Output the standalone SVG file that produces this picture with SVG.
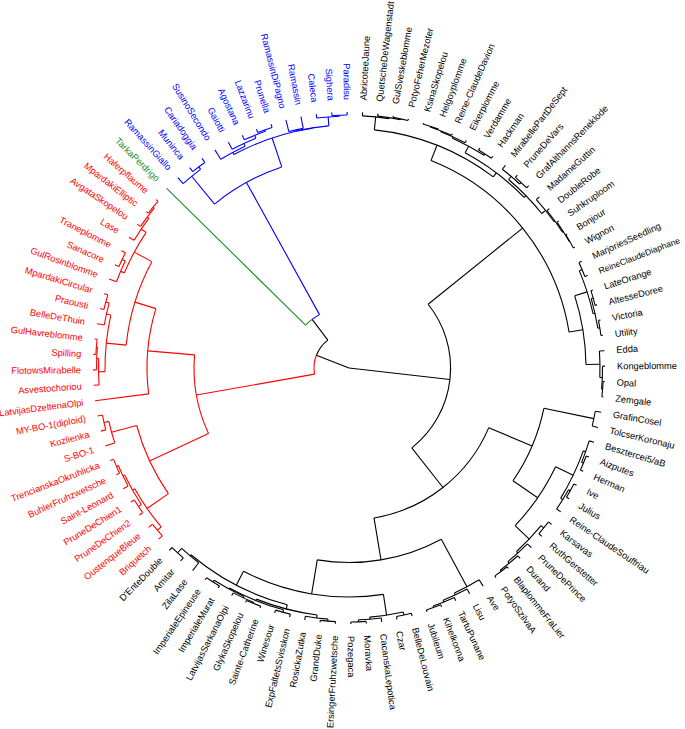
<svg xmlns="http://www.w3.org/2000/svg" width="685" height="729" viewBox="0 0 685 729">
<style>
.br path,.br circle{fill:none;stroke-width:1.1}
.k{stroke:#000}.r{stroke:#f00}.b{stroke:#00f}.g{stroke:#228b22}
text{font-family:"Liberation Sans",Arial,sans-serif;font-size:9.3px}
.tk{fill:#000}.tr{fill:#f00}.tb{fill:#00f}.tg{fill:#228b22}
.L{text-anchor:end}
</style>
<rect width="685" height="729" fill="#fff"/>
<g transform="translate(349 368)">
<g id="connectors" class="br">
<g class="k">
<path d="M0 0H35" transform="rotate(201.39)"/>
<path d="M0 0H101.6" transform="rotate(6.48)"/>
<circle r="101.6" pathLength="360" stroke-dasharray="90.675 400" transform="rotate(-38.86)"/>
<path d="M101.6 0H223" transform="rotate(-38.86)"/>
<path d="M101.6 0H152" transform="rotate(51.815)"/>
<circle r="223" pathLength="360" stroke-dasharray="59.145 400" transform="rotate(-68.435)"/>
<path d="M223 0H239.5" transform="rotate(-68.435)"/>
<path d="M223 0H237" transform="rotate(-9.29)"/>
<circle r="239.5" pathLength="360" stroke-dasharray="30.99 400" transform="rotate(-83.93)"/>
<path d="M239.5 0H252.5" transform="rotate(-83.93)"/>
<path d="M239.5 0H244.5" transform="rotate(-52.94)"/>
<circle r="252.5" pathLength="360" stroke-dasharray="6.055 400" transform="rotate(-86.96)"/>
<path d="M252.5 0H256" transform="rotate(-86.96)"/>
<path d="M252.5 0H253.5" transform="rotate(-80.905)"/>
<circle r="253.5" pathLength="360" stroke-dasharray="5.19 400" transform="rotate(-83.5)"/>
<path d="M253.5 0H256" transform="rotate(-83.5)"/>
<path d="M253.5 0H254.5" transform="rotate(-78.31)"/>
<circle r="254.5" pathLength="360" stroke-dasharray="3.46 400" transform="rotate(-80.04)"/>
<path d="M254.5 0H256" transform="rotate(-80.04)"/>
<path d="M254.5 0H256" transform="rotate(-76.58)"/>
<circle r="244.5" pathLength="360" stroke-dasharray="17.42 400" transform="rotate(-61.65)"/>
<path d="M244.5 0H252" transform="rotate(-61.65)"/>
<path d="M244.5 0H247" transform="rotate(-44.23)"/>
<circle r="252" pathLength="360" stroke-dasharray="8.22 400" transform="rotate(-65.76)"/>
<path d="M252 0H253.5" transform="rotate(-65.76)"/>
<path d="M252 0H253.5" transform="rotate(-57.54)"/>
<circle r="253.5" pathLength="360" stroke-dasharray="6.06 400" transform="rotate(-68.79)"/>
<path d="M253.5 0H254.3" transform="rotate(-68.79)"/>
<path d="M253.5 0H256" transform="rotate(-62.73)"/>
<circle r="254.3" pathLength="360" stroke-dasharray="5.195 400" transform="rotate(-71.385)"/>
<path d="M254.3 0H255" transform="rotate(-71.385)"/>
<path d="M254.3 0H256" transform="rotate(-66.19)"/>
<circle r="255" pathLength="360" stroke-dasharray="3.47 400" transform="rotate(-73.12)"/>
<path d="M255 0H256" transform="rotate(-73.12)"/>
<path d="M255 0H256" transform="rotate(-69.65)"/>
<circle r="253.5" pathLength="360" stroke-dasharray="3.46 400" transform="rotate(-59.27)"/>
<path d="M253.5 0H256" transform="rotate(-59.27)"/>
<path d="M253.5 0H256" transform="rotate(-55.81)"/>
<circle r="247" pathLength="360" stroke-dasharray="11.035 400" transform="rotate(-49.75)"/>
<path d="M247 0H251" transform="rotate(-49.75)"/>
<path d="M247 0H252" transform="rotate(-38.715)"/>
<circle r="251" pathLength="360" stroke-dasharray="5.2 400" transform="rotate(-52.35)"/>
<path d="M251 0H256" transform="rotate(-52.35)"/>
<path d="M251 0H253" transform="rotate(-47.15)"/>
<circle r="253" pathLength="360" stroke-dasharray="3.46 400" transform="rotate(-48.88)"/>
<path d="M253 0H256" transform="rotate(-48.88)"/>
<path d="M253 0H256" transform="rotate(-45.42)"/>
<circle r="252" pathLength="360" stroke-dasharray="6.49 400" transform="rotate(-41.96)"/>
<path d="M252 0H256" transform="rotate(-41.96)"/>
<path d="M252 0H253" transform="rotate(-35.47)"/>
<circle r="253" pathLength="360" stroke-dasharray="6.055 400" transform="rotate(-38.5)"/>
<path d="M253 0H256" transform="rotate(-38.5)"/>
<path d="M253 0H254" transform="rotate(-32.445)"/>
<circle r="254" pathLength="360" stroke-dasharray="5.19 400" transform="rotate(-35.04)"/>
<path d="M254 0H256" transform="rotate(-35.04)"/>
<path d="M254 0H254.5" transform="rotate(-29.85)"/>
<circle r="254.5" pathLength="360" stroke-dasharray="3.46 400" transform="rotate(-31.58)"/>
<path d="M254.5 0H256" transform="rotate(-31.58)"/>
<path d="M254.5 0H256" transform="rotate(-28.12)"/>
<circle r="237" pathLength="360" stroke-dasharray="16.8775 400" transform="rotate(-17.73)"/>
<path d="M237 0H250" transform="rotate(-17.73)"/>
<path d="M237 0H251" transform="rotate(-0.8525)"/>
<circle r="250" pathLength="360" stroke-dasharray="10.38 400" transform="rotate(-22.92)"/>
<path d="M250 0H253" transform="rotate(-22.92)"/>
<path d="M250 0H252" transform="rotate(-12.54)"/>
<circle r="253" pathLength="360" stroke-dasharray="3.46 400" transform="rotate(-24.65)"/>
<path d="M253 0H256" transform="rotate(-24.65)"/>
<path d="M253 0H256" transform="rotate(-21.19)"/>
<circle r="252" pathLength="360" stroke-dasharray="6.92 400" transform="rotate(-16)"/>
<path d="M252 0H254" transform="rotate(-16)"/>
<path d="M252 0H254" transform="rotate(-9.08)"/>
<circle r="254" pathLength="360" stroke-dasharray="3.46 400" transform="rotate(-17.73)"/>
<path d="M254 0H256" transform="rotate(-17.73)"/>
<path d="M254 0H256" transform="rotate(-14.27)"/>
<circle r="254" pathLength="360" stroke-dasharray="3.46 400" transform="rotate(-10.81)"/>
<path d="M254 0H256" transform="rotate(-10.81)"/>
<path d="M254 0H256" transform="rotate(-7.35)"/>
<circle r="251" pathLength="360" stroke-dasharray="6.055 400" transform="rotate(-3.88)"/>
<path d="M251 0H256" transform="rotate(-3.88)"/>
<path d="M251 0H253.5" transform="rotate(2.175)"/>
<circle r="253.5" pathLength="360" stroke-dasharray="5.19 400" transform="rotate(-0.42)"/>
<path d="M253.5 0H256" transform="rotate(-0.42)"/>
<path d="M253.5 0H254.5" transform="rotate(4.77)"/>
<circle r="254.5" pathLength="360" stroke-dasharray="3.46 400" transform="rotate(3.04)"/>
<path d="M254.5 0H256" transform="rotate(3.04)"/>
<path d="M254.5 0H256" transform="rotate(6.5)"/>
<circle r="152" pathLength="360" stroke-dasharray="57.43 400" transform="rotate(23.1)"/>
<path d="M152 0H199" transform="rotate(23.1)"/>
<path d="M152 0H194.5" transform="rotate(80.53)"/>
<circle r="199" pathLength="360" stroke-dasharray="22.83 400" transform="rotate(11.69)"/>
<path d="M199 0H250" transform="rotate(11.69)"/>
<path d="M199 0H229" transform="rotate(34.52)"/>
<circle r="250" pathLength="360" stroke-dasharray="3.46 400" transform="rotate(9.96)"/>
<path d="M250 0H256" transform="rotate(9.96)"/>
<path d="M250 0H256" transform="rotate(13.42)"/>
<circle r="229" pathLength="360" stroke-dasharray="17.96 400" transform="rotate(25.54)"/>
<path d="M229 0H248.5" transform="rotate(25.54)"/>
<path d="M229 0H248.5" transform="rotate(43.5)"/>
<circle r="248.5" pathLength="360" stroke-dasharray="12.115 400" transform="rotate(19.48)"/>
<path d="M248.5 0H251" transform="rotate(19.48)"/>
<path d="M248.5 0H251" transform="rotate(31.595)"/>
<circle r="251" pathLength="360" stroke-dasharray="5.2 400" transform="rotate(16.88)"/>
<path d="M251 0H256" transform="rotate(16.88)"/>
<path d="M251 0H253" transform="rotate(22.08)"/>
<circle r="253" pathLength="360" stroke-dasharray="3.46 400" transform="rotate(20.35)"/>
<path d="M253 0H256" transform="rotate(20.35)"/>
<path d="M253 0H256" transform="rotate(23.81)"/>
<circle r="251" pathLength="360" stroke-dasharray="5.19 400" transform="rotate(29)"/>
<path d="M251 0H253" transform="rotate(29)"/>
<path d="M251 0H256" transform="rotate(34.19)"/>
<circle r="253" pathLength="360" stroke-dasharray="3.46 400" transform="rotate(27.27)"/>
<path d="M253 0H256" transform="rotate(27.27)"/>
<path d="M253 0H256" transform="rotate(30.73)"/>
<circle r="248.5" pathLength="360" stroke-dasharray="8.225 400" transform="rotate(39.385)"/>
<path d="M248.5 0H252" transform="rotate(39.385)"/>
<path d="M248.5 0H250.5" transform="rotate(47.61)"/>
<circle r="252" pathLength="360" stroke-dasharray="3.47 400" transform="rotate(37.65)"/>
<path d="M252 0H256" transform="rotate(37.65)"/>
<path d="M252 0H256" transform="rotate(41.12)"/>
<circle r="250.5" pathLength="360" stroke-dasharray="6.055 400" transform="rotate(44.58)"/>
<path d="M250.5 0H256" transform="rotate(44.58)"/>
<path d="M250.5 0H252.5" transform="rotate(50.635)"/>
<circle r="252.5" pathLength="360" stroke-dasharray="5.19 400" transform="rotate(48.04)"/>
<path d="M252.5 0H256" transform="rotate(48.04)"/>
<path d="M252.5 0H254" transform="rotate(53.23)"/>
<circle r="254" pathLength="360" stroke-dasharray="3.46 400" transform="rotate(51.5)"/>
<path d="M254 0H256" transform="rotate(51.5)"/>
<path d="M254 0H256" transform="rotate(54.96)"/>
<circle r="194.5" pathLength="360" stroke-dasharray="37.725 400" transform="rotate(61.665)"/>
<path d="M194.5 0H248.5" transform="rotate(61.665)"/>
<path d="M194.5 0H229" transform="rotate(99.39)"/>
<circle r="248.5" pathLength="360" stroke-dasharray="6.49 400" transform="rotate(58.42)"/>
<path d="M248.5 0H256" transform="rotate(58.42)"/>
<path d="M248.5 0H250.5" transform="rotate(64.91)"/>
<circle r="250.5" pathLength="360" stroke-dasharray="6.065 400" transform="rotate(61.88)"/>
<path d="M250.5 0H256" transform="rotate(61.88)"/>
<path d="M250.5 0H252.5" transform="rotate(67.945)"/>
<circle r="252.5" pathLength="360" stroke-dasharray="5.19 400" transform="rotate(65.35)"/>
<path d="M252.5 0H256" transform="rotate(65.35)"/>
<path d="M252.5 0H254" transform="rotate(70.54)"/>
<circle r="254" pathLength="360" stroke-dasharray="3.46 400" transform="rotate(68.81)"/>
<path d="M254 0H256" transform="rotate(68.81)"/>
<path d="M254 0H256" transform="rotate(72.27)"/>
<circle r="229" pathLength="360" stroke-dasharray="36.075 400" transform="rotate(81.355)"/>
<path d="M229 0H250" transform="rotate(81.355)"/>
<path d="M229 0H244.7" transform="rotate(117.43)"/>
<circle r="250" pathLength="360" stroke-dasharray="7.79 400" transform="rotate(77.46)"/>
<path d="M250 0H253" transform="rotate(77.46)"/>
<path d="M250 0H252" transform="rotate(85.25)"/>
<circle r="253" pathLength="360" stroke-dasharray="3.46 400" transform="rotate(75.73)"/>
<path d="M253 0H256" transform="rotate(75.73)"/>
<path d="M253 0H256" transform="rotate(79.19)"/>
<circle r="252" pathLength="360" stroke-dasharray="5.2 400" transform="rotate(82.65)"/>
<path d="M252 0H256" transform="rotate(82.65)"/>
<path d="M252 0H254" transform="rotate(87.85)"/>
<circle r="254" pathLength="360" stroke-dasharray="3.46 400" transform="rotate(86.12)"/>
<path d="M254 0H256" transform="rotate(86.12)"/>
<path d="M254 0H256" transform="rotate(89.58)"/>
<circle r="244.7" pathLength="360" stroke-dasharray="25.64 400" transform="rotate(104.61)"/>
<path d="M244.7 0H249" transform="rotate(104.61)"/>
<path d="M244.7 0H246" transform="rotate(130.25)"/>
<circle r="249" pathLength="360" stroke-dasharray="14.495 400" transform="rotate(97.365)"/>
<path d="M249 0H252" transform="rotate(97.365)"/>
<path d="M249 0H250.5" transform="rotate(111.86)"/>
<circle r="252" pathLength="360" stroke-dasharray="5.19 400" transform="rotate(94.77)"/>
<path d="M252 0H254" transform="rotate(94.77)"/>
<path d="M252 0H256" transform="rotate(99.96)"/>
<circle r="254" pathLength="360" stroke-dasharray="3.46 400" transform="rotate(93.04)"/>
<path d="M254 0H256" transform="rotate(93.04)"/>
<path d="M254 0H256" transform="rotate(96.5)"/>
<circle r="250.5" pathLength="360" stroke-dasharray="13.42 400" transform="rotate(105.15)"/>
<path d="M250.5 0H253" transform="rotate(105.15)"/>
<path d="M250.5 0H251.5" transform="rotate(118.57)"/>
<circle r="253" pathLength="360" stroke-dasharray="3.46 400" transform="rotate(103.42)"/>
<path d="M253 0H256" transform="rotate(103.42)"/>
<path d="M253 0H256" transform="rotate(106.88)"/>
<circle r="251.5" pathLength="360" stroke-dasharray="7.785 400" transform="rotate(114.675)"/>
<path d="M251.5 0H253" transform="rotate(114.675)"/>
<path d="M251.5 0H253.5" transform="rotate(122.46)"/>
<circle r="253" pathLength="360" stroke-dasharray="5.19 400" transform="rotate(112.08)"/>
<path d="M253 0H254" transform="rotate(112.08)"/>
<path d="M253 0H256" transform="rotate(117.27)"/>
<circle r="254" pathLength="360" stroke-dasharray="3.46 400" transform="rotate(110.35)"/>
<path d="M254 0H256" transform="rotate(110.35)"/>
<path d="M254 0H256" transform="rotate(113.81)"/>
<circle r="253.5" pathLength="360" stroke-dasharray="3.46 400" transform="rotate(120.73)"/>
<path d="M253.5 0H256" transform="rotate(120.73)"/>
<path d="M253.5 0H256" transform="rotate(124.19)"/>
<circle r="246" pathLength="360" stroke-dasharray="5.2 400" transform="rotate(127.65)"/>
<path d="M246 0H256" transform="rotate(127.65)"/>
<path d="M246 0H252" transform="rotate(132.85)"/>
<circle r="252" pathLength="360" stroke-dasharray="3.46 400" transform="rotate(131.12)"/>
<path d="M252 0H256" transform="rotate(131.12)"/>
<path d="M252 0H256" transform="rotate(134.58)"/>
<circle r="35" pathLength="360" stroke-dasharray="31.435 400" transform="rotate(201.39)"/>
<path d="M35 0H61" transform="rotate(232.825)"/>
</g>
<g class="r">
<circle r="35" pathLength="360" stroke-dasharray="31.44 400" transform="rotate(169.95)"/>
<path d="M35 0H155" transform="rotate(169.95)"/>
<circle r="155" pathLength="360" stroke-dasharray="29.855 400" transform="rotate(155.02)"/>
<path d="M155 0H220" transform="rotate(155.02)"/>
<path d="M155 0H202" transform="rotate(184.875)"/>
<circle r="220" pathLength="360" stroke-dasharray="19.685 400" transform="rotate(145.18)"/>
<path d="M220 0H246" transform="rotate(145.18)"/>
<path d="M220 0H246" transform="rotate(164.865)"/>
<circle r="246" pathLength="360" stroke-dasharray="10.815 400" transform="rotate(139.77)"/>
<path d="M246 0H251" transform="rotate(139.77)"/>
<path d="M246 0H248.5" transform="rotate(150.585)"/>
<circle r="251" pathLength="360" stroke-dasharray="3.46 400" transform="rotate(138.04)"/>
<path d="M251 0H256" transform="rotate(138.04)"/>
<path d="M251 0H256" transform="rotate(141.5)"/>
<circle r="248.5" pathLength="360" stroke-dasharray="7.79 400" transform="rotate(146.69)"/>
<path d="M248.5 0H252" transform="rotate(146.69)"/>
<path d="M248.5 0H250.5" transform="rotate(154.48)"/>
<circle r="252" pathLength="360" stroke-dasharray="3.46 400" transform="rotate(144.96)"/>
<path d="M252 0H256" transform="rotate(144.96)"/>
<path d="M252 0H256" transform="rotate(148.42)"/>
<circle r="250.5" pathLength="360" stroke-dasharray="5.2 400" transform="rotate(151.88)"/>
<path d="M250.5 0H256" transform="rotate(151.88)"/>
<path d="M250.5 0H252.5" transform="rotate(157.08)"/>
<circle r="252.5" pathLength="360" stroke-dasharray="3.46 400" transform="rotate(155.35)"/>
<path d="M252.5 0H256" transform="rotate(155.35)"/>
<path d="M252.5 0H256" transform="rotate(158.81)"/>
<circle r="246" pathLength="360" stroke-dasharray="5.19 400" transform="rotate(162.27)"/>
<path d="M246 0H256" transform="rotate(162.27)"/>
<path d="M246 0H251" transform="rotate(167.46)"/>
<circle r="251" pathLength="360" stroke-dasharray="3.46 400" transform="rotate(165.73)"/>
<path d="M251 0H256" transform="rotate(165.73)"/>
<path d="M251 0H256" transform="rotate(169.19)"/>
<circle r="202" pathLength="360" stroke-dasharray="24.45 400" transform="rotate(172.65)"/>
<path d="M202 0H256" transform="rotate(172.65)"/>
<path d="M202 0H224" transform="rotate(197.1)"/>
<circle r="224" pathLength="360" stroke-dasharray="22.5 400" transform="rotate(185.85)"/>
<path d="M224 0H244" transform="rotate(185.85)"/>
<path d="M224 0H244" transform="rotate(208.35)"/>
<circle r="244" pathLength="360" stroke-dasharray="13.405 400" transform="rotate(179.15)"/>
<path d="M244 0H250.5" transform="rotate(179.15)"/>
<path d="M244 0H248.5" transform="rotate(192.555)"/>
<circle r="250.5" pathLength="360" stroke-dasharray="6.055 400" transform="rotate(176.12)"/>
<path d="M250.5 0H256" transform="rotate(176.12)"/>
<path d="M250.5 0H252.5" transform="rotate(182.175)"/>
<circle r="252.5" pathLength="360" stroke-dasharray="5.19 400" transform="rotate(179.58)"/>
<path d="M252.5 0H256" transform="rotate(179.58)"/>
<path d="M252.5 0H253.5" transform="rotate(184.77)"/>
<circle r="253.5" pathLength="360" stroke-dasharray="3.46 400" transform="rotate(183.04)"/>
<path d="M253.5 0H256" transform="rotate(183.04)"/>
<path d="M253.5 0H256" transform="rotate(186.5)"/>
<circle r="248.5" pathLength="360" stroke-dasharray="5.19 400" transform="rotate(189.96)"/>
<path d="M248.5 0H256" transform="rotate(189.96)"/>
<path d="M248.5 0H252" transform="rotate(195.15)"/>
<circle r="252" pathLength="360" stroke-dasharray="3.46 400" transform="rotate(193.42)"/>
<path d="M252 0H256" transform="rotate(193.42)"/>
<path d="M252 0H256" transform="rotate(196.88)"/>
<circle r="244" pathLength="360" stroke-dasharray="10.815 400" transform="rotate(202.945)"/>
<path d="M244 0H248" transform="rotate(202.945)"/>
<path d="M244 0H250" transform="rotate(213.76)"/>
<circle r="248" pathLength="360" stroke-dasharray="5.19 400" transform="rotate(200.35)"/>
<path d="M248 0H256" transform="rotate(200.35)"/>
<path d="M248 0H251.5" transform="rotate(205.54)"/>
<circle r="251.5" pathLength="360" stroke-dasharray="3.46 400" transform="rotate(203.81)"/>
<path d="M251.5 0H256" transform="rotate(203.81)"/>
<path d="M251.5 0H256" transform="rotate(207.27)"/>
<circle r="250" pathLength="360" stroke-dasharray="6.06 400" transform="rotate(210.73)"/>
<path d="M250 0H256" transform="rotate(210.73)"/>
<path d="M250 0H252" transform="rotate(216.79)"/>
<circle r="252" pathLength="360" stroke-dasharray="5.195 400" transform="rotate(214.19)"/>
<path d="M252 0H256" transform="rotate(214.19)"/>
<path d="M252 0H253.5" transform="rotate(219.385)"/>
<circle r="253.5" pathLength="360" stroke-dasharray="3.47 400" transform="rotate(217.65)"/>
<path d="M253.5 0H256" transform="rotate(217.65)"/>
<path d="M253.5 0H256" transform="rotate(221.12)"/>
</g>
<g class="g">
<circle r="61" pathLength="360" stroke-dasharray="8.245 400" transform="rotate(224.58)"/>
<path d="M61 0H256" transform="rotate(224.58)"/>
</g>
<g class="b">
<circle r="61" pathLength="360" stroke-dasharray="8.245 400" transform="rotate(232.825)"/>
<path d="M61 0H212" transform="rotate(241.07)"/>
<circle r="212" pathLength="360" stroke-dasharray="20.875 400" transform="rotate(230.635)"/>
<path d="M212 0H248" transform="rotate(230.635)"/>
<path d="M212 0H242.5" transform="rotate(251.51)"/>
<circle r="248" pathLength="360" stroke-dasharray="5.19 400" transform="rotate(228.04)"/>
<path d="M248 0H256" transform="rotate(228.04)"/>
<path d="M248 0H251" transform="rotate(233.23)"/>
<circle r="251" pathLength="360" stroke-dasharray="3.46 400" transform="rotate(231.5)"/>
<path d="M251 0H256" transform="rotate(231.5)"/>
<path d="M251 0H256" transform="rotate(234.96)"/>
<circle r="242.5" pathLength="360" stroke-dasharray="19.69 400" transform="rotate(241.665)"/>
<path d="M242.5 0H245" transform="rotate(241.665)"/>
<path d="M242.5 0H243" transform="rotate(261.355)"/>
<circle r="245" pathLength="360" stroke-dasharray="6.49 400" transform="rotate(238.42)"/>
<path d="M245 0H256" transform="rotate(238.42)"/>
<path d="M245 0H248" transform="rotate(244.91)"/>
<circle r="248" pathLength="360" stroke-dasharray="6.065 400" transform="rotate(241.88)"/>
<path d="M248 0H256" transform="rotate(241.88)"/>
<path d="M248 0H251" transform="rotate(247.945)"/>
<circle r="251" pathLength="360" stroke-dasharray="5.19 400" transform="rotate(245.35)"/>
<path d="M251 0H256" transform="rotate(245.35)"/>
<path d="M251 0H252.5" transform="rotate(250.54)"/>
<circle r="252.5" pathLength="360" stroke-dasharray="3.46 400" transform="rotate(248.81)"/>
<path d="M252.5 0H256" transform="rotate(248.81)"/>
<path d="M252.5 0H256" transform="rotate(252.27)"/>
<circle r="243" pathLength="360" stroke-dasharray="7.79 400" transform="rotate(257.46)"/>
<path d="M243 0H244" transform="rotate(257.46)"/>
<path d="M243 0H252" transform="rotate(265.25)"/>
<circle r="244" pathLength="360" stroke-dasharray="3.46 400" transform="rotate(255.73)"/>
<path d="M244 0H256" transform="rotate(255.73)"/>
<path d="M244 0H256" transform="rotate(259.19)"/>
<circle r="252" pathLength="360" stroke-dasharray="5.2 400" transform="rotate(262.65)"/>
<path d="M252 0H256" transform="rotate(262.65)"/>
<path d="M252 0H253" transform="rotate(267.85)"/>
<circle r="253" pathLength="360" stroke-dasharray="3.46 400" transform="rotate(266.12)"/>
<path d="M253 0H256" transform="rotate(266.12)"/>
<path d="M253 0H256" transform="rotate(269.58)"/>
</g>
</g>
<g id="labels">
<g class="tk">
<g id="leaf-AbricoteeJaune"><text transform="rotate(-86.96)" x="268" dy=".35em">AbricoteeJaune</text></g>
<g id="leaf-QuetscheDeWagenstadt"><text transform="rotate(-83.5)" x="268" dy=".35em">QuetscheDeWagenstadt</text></g>
<g id="leaf-GulSveskeblomme"><text transform="rotate(-80.04)" x="268" dy=".35em">GulSveskeblomme</text></g>
<g id="leaf-PotyoFeherMezoter"><text transform="rotate(-76.58)" x="268" dy=".35em">PotyoFeherMezoter</text></g>
<g id="leaf-KsinaSkopelou"><text transform="rotate(-73.12)" x="268" dy=".35em">KsinaSkopelou</text></g>
<g id="leaf-Helgoyplomme"><text transform="rotate(-69.65)" x="268" dy=".35em">Helgoyplomme</text></g>
<g id="leaf-Reine-ClaudeDavion"><text transform="rotate(-66.19)" x="268" dy=".35em">Reine-ClaudeDavion</text></g>
<g id="leaf-Eikerplomme"><text transform="rotate(-62.73)" x="268" dy=".35em">Eikerplomme</text></g>
<g id="leaf-Verdamme"><text transform="rotate(-59.27)" x="268" dy=".35em">Verdamme</text></g>
<g id="leaf-Hackman"><text transform="rotate(-55.81)" x="268" dy=".35em">Hackman</text></g>
<g id="leaf-MirabellePartDeSept"><text transform="rotate(-52.35)" x="268" dy=".35em">MirabellePartDeSept</text></g>
<g id="leaf-PruneDeVars"><text transform="rotate(-48.88)" x="268" dy=".35em">PruneDeVars</text></g>
<g id="leaf-GrafAlthannsReneklode"><text transform="rotate(-45.42)" x="268" dy=".35em">GrafAlthannsReneklode</text></g>
<g id="leaf-MadameGuttin"><text transform="rotate(-41.96)" x="268" dy=".35em">MadameGuttin</text></g>
<g id="leaf-DoubleRobe"><text transform="rotate(-38.5)" x="268" dy=".35em">DoubleRobe</text></g>
<g id="leaf-Suhkruploom"><text transform="rotate(-35.04)" x="268" dy=".35em">Suhkruploom</text></g>
<g id="leaf-Bonjour"><text transform="rotate(-31.58)" x="268" dy=".35em">Bonjour</text></g>
<g id="leaf-Wignon"><text transform="rotate(-28.12)" x="268" dy=".35em">Wignon</text></g>
<g id="leaf-MarjoriesSeedling"><text transform="rotate(-24.65)" x="268" dy=".35em">MarjoriesSeedling</text></g>
<g id="leaf-ReineClaudeDiaphane"><text transform="rotate(-21.19)" x="268" dy=".35em" style="font-size:8.6px">ReineClaudeDiaphane</text></g>
<g id="leaf-LateOrange"><text transform="rotate(-17.73)" x="268" dy=".35em">LateOrange</text></g>
<g id="leaf-AltesseDoree"><text transform="rotate(-14.27)" x="268" dy=".35em">AltesseDoree</text></g>
<g id="leaf-Victoria"><text transform="rotate(-10.81)" x="268" dy=".35em">Victoria</text></g>
<g id="leaf-Utility"><text transform="rotate(-7.35)" x="268" dy=".35em">Utility</text></g>
<g id="leaf-Edda"><text transform="rotate(-3.88)" x="268" dy=".35em">Edda</text></g>
<g id="leaf-Kongeblomme"><text transform="rotate(-0.42)" x="268" dy=".35em">Kongeblomme</text></g>
<g id="leaf-Opal"><text transform="rotate(3.04)" x="268" dy=".35em">Opal</text></g>
<g id="leaf-Zemgale"><text transform="rotate(6.5)" x="268" dy=".35em">Zemgale</text></g>
<g id="leaf-GrafinCosel"><text transform="rotate(9.96)" x="268" dy=".35em">GrafinCosel</text></g>
<g id="leaf-TolcserKoronaju"><text transform="rotate(13.42)" x="268" dy=".35em">TolcserKoronaju</text></g>
<g id="leaf-Besztercei5-aB"><text transform="rotate(16.88)" x="268" dy=".35em">Besztercei5/aB</text></g>
<g id="leaf-Aizputes"><text transform="rotate(20.35)" x="268" dy=".35em">Aizputes</text></g>
<g id="leaf-Herman"><text transform="rotate(23.81)" x="268" dy=".35em">Herman</text></g>
<g id="leaf-Ive"><text transform="rotate(27.27)" x="268" dy=".35em">Ive</text></g>
<g id="leaf-Julius"><text transform="rotate(30.73)" x="268" dy=".35em">Julius</text></g>
<g id="leaf-Reine-ClaudeSouffriau"><text transform="rotate(34.19)" x="268" dy=".35em">Reine-ClaudeSouffriau</text></g>
<g id="leaf-Karsavas"><text transform="rotate(37.65)" x="268" dy=".35em">Karsavas</text></g>
<g id="leaf-RuthGerstetter"><text transform="rotate(41.12)" x="268" dy=".35em">RuthGerstetter</text></g>
<g id="leaf-PruneDePrince"><text transform="rotate(44.58)" x="268" dy=".35em">PruneDePrince</text></g>
<g id="leaf-Durand"><text transform="rotate(48.04)" x="268" dy=".35em">Durand</text></g>
<g id="leaf-BlaplommeFraLier"><text transform="rotate(51.5)" x="268" dy=".35em">BlaplommeFraLier</text></g>
<g id="leaf-PotyoSzilvaA"><text transform="rotate(54.96)" x="268" dy=".35em">PotyoSzilvaA</text></g>
<g id="leaf-Ave"><text transform="rotate(58.42)" x="268" dy=".35em">Ave</text></g>
<g id="leaf-Lisu"><text transform="rotate(61.88)" x="268" dy=".35em">Lisu</text></g>
<g id="leaf-TartuPunane"><text transform="rotate(65.35)" x="268" dy=".35em">TartuPunane</text></g>
<g id="leaf-Kihelkonna"><text transform="rotate(68.81)" x="268" dy=".35em">Kihelkonna</text></g>
<g id="leaf-Jubileum"><text transform="rotate(72.27)" x="268" dy=".35em">Jubileum</text></g>
<g id="leaf-BelleDeLouvain"><text transform="rotate(75.73)" x="268" dy=".35em">BelleDeLouvain</text></g>
<g id="leaf-Czar"><text transform="rotate(79.19)" x="268" dy=".35em">Czar</text></g>
<g id="leaf-CacanskaLepotica"><text transform="rotate(82.65)" x="268" dy=".35em">CacanskaLepotica</text></g>
<g id="leaf-Moravka"><text transform="rotate(86.12)" x="268" dy=".35em">Moravka</text></g>
<g id="leaf-Pozegaca"><text transform="rotate(89.58)" x="268" dy=".35em">Pozegaca</text></g>
<g id="leaf-ErsingerFruhzwetsche"><text class="L" transform="rotate(-86.96)" x="-268" dy=".35em">ErsingerFruhzwetsche</text></g>
<g id="leaf-GrandDuke"><text class="L" transform="rotate(-83.5)" x="-268" dy=".35em">GrandDuke</text></g>
<g id="leaf-RosickaZutka"><text class="L" transform="rotate(-80.04)" x="-268" dy=".35em">RosickaZutka</text></g>
<g id="leaf-ExpFaltetsSvisskon"><text class="L" transform="rotate(-76.58)" x="-268" dy=".35em">ExpFaltetsSvisskon</text></g>
<g id="leaf-Winesour"><text class="L" transform="rotate(-73.12)" x="-268" dy=".35em">Winesour</text></g>
<g id="leaf-Sainte-Catherine"><text class="L" transform="rotate(-69.65)" x="-268" dy=".35em">Sainte-Catherine</text></g>
<g id="leaf-GlykaSkopelou"><text class="L" transform="rotate(-66.19)" x="-268" dy=".35em">GlykaSkopelou</text></g>
<g id="leaf-LatvijasSarkanaOlpi"><text class="L" transform="rotate(-62.73)" x="-268" dy=".35em">LatvijasSarkanaOlpi</text></g>
<g id="leaf-ImperialeMurat"><text class="L" transform="rotate(-59.27)" x="-268" dy=".35em">ImperialeMurat</text></g>
<g id="leaf-ImperialeEpineuse"><text class="L" transform="rotate(-55.81)" x="-268" dy=".35em">ImperialeEpineuse</text></g>
<g id="leaf-ZilaLase"><text class="L" transform="rotate(-52.35)" x="-268" dy=".35em">ZilaLase</text></g>
<g id="leaf-Amitar"><text class="L" transform="rotate(-48.88)" x="-268" dy=".35em">Amitar</text></g>
<g id="leaf-DEnteDouble"><text class="L" transform="rotate(-45.42)" x="-268" dy=".35em">D'EnteDouble</text></g>
</g>
<g class="tr">
<g id="leaf-Briquetch"><text class="L" transform="rotate(-41.96)" x="-268" dy=".35em">Briquetch</text></g>
<g id="leaf-OustenqueBleue"><text class="L" transform="rotate(-38.5)" x="-268" dy=".35em">OustenqueBleue</text></g>
<g id="leaf-PruneDeChien2"><text class="L" transform="rotate(-35.04)" x="-268" dy=".35em">PruneDeChien2</text></g>
<g id="leaf-PruneDeChien1"><text class="L" transform="rotate(-31.58)" x="-268" dy=".35em">PruneDeChien1</text></g>
<g id="leaf-Saint-Leonard"><text class="L" transform="rotate(-28.12)" x="-268" dy=".35em">Saint-Leonard</text></g>
<g id="leaf-BuhlerFruhzwetsche"><text class="L" transform="rotate(-24.65)" x="-268" dy=".35em">BuhlerFruhzwetsche</text></g>
<g id="leaf-TrencianskaOkruhlicka"><text class="L" transform="rotate(-21.19)" x="-268" dy=".35em">TrencianskaOkruhlicka</text></g>
<g id="leaf-S-BO-1"><text class="L" transform="rotate(-17.73)" x="-268" dy=".35em">S-BO-1</text></g>
<g id="leaf-Kozlienka"><text class="L" transform="rotate(-14.27)" x="-268" dy=".35em">Kozlienka</text></g>
<g id="leaf-MY-BO-1-diploid"><text class="L" transform="rotate(-10.81)" x="-268" dy=".35em">MY-BO-1(diploid)</text></g>
<g id="leaf-LatvijasDzeltenaOlpi"><text class="L" transform="rotate(-7.35)" x="-268" dy=".35em">LatvijasDzeltenaOlpi</text></g>
<g id="leaf-Asvestochoriou"><text class="L" transform="rotate(-3.88)" x="-268" dy=".35em">Asvestochoriou</text></g>
<g id="leaf-FlotowsMirabelle"><text class="L" transform="rotate(-0.42)" x="-268" dy=".35em">FlotowsMirabelle</text></g>
<g id="leaf-Spilling"><text class="L" transform="rotate(3.04)" x="-268" dy=".35em">Spilling</text></g>
<g id="leaf-GulHavreblomme"><text class="L" transform="rotate(6.5)" x="-268" dy=".35em">GulHavreblomme</text></g>
<g id="leaf-BelleDeThuin"><text class="L" transform="rotate(9.96)" x="-268" dy=".35em">BelleDeThuin</text></g>
<g id="leaf-Praousti"><text class="L" transform="rotate(13.42)" x="-268" dy=".35em">Praousti</text></g>
<g id="leaf-MpardakiCircular"><text class="L" transform="rotate(16.88)" x="-268" dy=".35em">MpardakiCircular</text></g>
<g id="leaf-GulRosinblomme"><text class="L" transform="rotate(20.35)" x="-268" dy=".35em">GulRosinblomme</text></g>
<g id="leaf-Sanacore"><text class="L" transform="rotate(23.81)" x="-268" dy=".35em">Sanacore</text></g>
<g id="leaf-Traneplomme"><text class="L" transform="rotate(27.27)" x="-268" dy=".35em">Traneplomme</text></g>
<g id="leaf-Lase"><text class="L" transform="rotate(30.73)" x="-268" dy=".35em">Lase</text></g>
<g id="leaf-AvgataSkopelou"><text class="L" transform="rotate(34.19)" x="-268" dy=".35em">AvgataSkopelou</text></g>
<g id="leaf-MpardakiElliptic"><text class="L" transform="rotate(37.65)" x="-268" dy=".35em">MpardakiElliptic</text></g>
<g id="leaf-Haferpflaume"><text class="L" transform="rotate(41.12)" x="-268" dy=".35em">Haferpflaume</text></g>
</g>
<g class="tg">
<g id="leaf-TarkaPerdrigo"><text class="L" transform="rotate(44.58)" x="-268" dy=".35em">TarkaPerdrigo</text></g>
</g>
<g class="tb">
<g id="leaf-RamassinGiallo"><text class="L" transform="rotate(48.04)" x="-268" dy=".35em">RamassinGiallo</text></g>
<g id="leaf-Muninca"><text class="L" transform="rotate(51.5)" x="-268" dy=".35em">Muninca</text></g>
<g id="leaf-Cariadoggia"><text class="L" transform="rotate(54.96)" x="-268" dy=".35em">Cariadoggia</text></g>
<g id="leaf-SusinoSecondo"><text class="L" transform="rotate(58.42)" x="-268" dy=".35em">SusinoSecondo</text></g>
<g id="leaf-Gaiotti"><text class="L" transform="rotate(61.88)" x="-268" dy=".35em">Gaiotti</text></g>
<g id="leaf-Agostana"><text class="L" transform="rotate(65.35)" x="-268" dy=".35em">Agostana</text></g>
<g id="leaf-Lazzarinu"><text class="L" transform="rotate(68.81)" x="-268" dy=".35em">Lazzarinu</text></g>
<g id="leaf-Prunella"><text class="L" transform="rotate(72.27)" x="-268" dy=".35em">Prunella</text></g>
<g id="leaf-RamassinDiPagno"><text class="L" transform="rotate(75.73)" x="-268" dy=".35em">RamassinDiPagno</text></g>
<g id="leaf-Ramassin"><text class="L" transform="rotate(79.19)" x="-268" dy=".35em">Ramassin</text></g>
<g id="leaf-Caleca"><text class="L" transform="rotate(82.65)" x="-268" dy=".35em">Caleca</text></g>
<g id="leaf-Sighera"><text class="L" transform="rotate(86.12)" x="-268" dy=".35em">Sighera</text></g>
<g id="leaf-Paradisu"><text class="L" transform="rotate(89.58)" x="-268" dy=".35em">Paradisu</text></g>
</g>
</g>
</g>
</svg>
